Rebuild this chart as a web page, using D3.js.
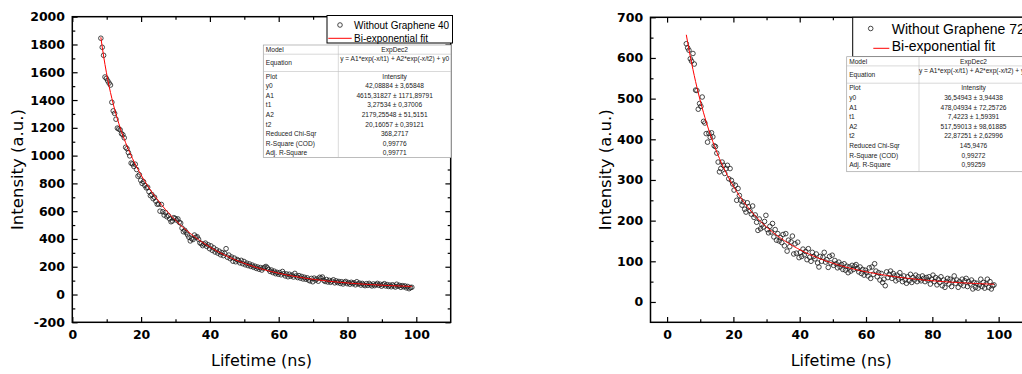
<!DOCTYPE html>
<html>
<head>
<meta charset="utf-8">
<script src="https://cdn.jsdelivr.net/npm/d3@7/dist/d3.min.js"></script>
<style>
  html, body { margin: 0; padding: 0; background: #fff; }
  svg { display: block; }
</style>
</head>
<body>
<svg id="chart" width="1022" height="374"></svg>
<script>
// ---- Decay curves: time channel (ns) and measured intensity ----
const timeA = [
  8.3,8.7,9.1,9.5,9.9,10.3,10.7,11.1,11.5,11.9,
  12.3,12.7,13.1,13.5,13.9,14.3,14.7,15.1,15.5,15.9,
  16.3,16.7,17.1,17.5,17.9,18.3,18.7,19.1,19.5,19.9,
  20.3,20.7,21.1,21.5,21.9,22.3,22.7,23.1,23.5,23.9,
  24.3,24.7,25.1,25.5,25.9,26.3,26.7,27.1,27.5,27.9,
  28.3,28.7,29.1,29.5,29.9,30.3,30.7,31.1,31.5,31.9,
  32.3,32.7,33.1,33.5,33.9,34.3,34.7,35.1,35.5,35.9,
  36.3,36.7,37.1,37.5,37.9,38.3,38.7,39.1,39.5,39.9,
  40.3,40.7,41.1,41.5,41.9,42.3,42.7,43.1,43.5,43.9,
  44.3,44.7,45.1,45.5,45.9,46.3,46.7,47.1,47.5,47.9,
  48.3,48.7,49.1,49.5,49.9,50.3,50.7,51.1,51.5,51.9,
  52.3,52.7,53.1,53.5,53.9,54.3,54.7,55.1,55.5,55.9,
  56.3,56.7,57.1,57.5,57.9,58.3,58.7,59.1,59.5,59.9,
  60.3,60.7,61.1,61.5,61.9,62.3,62.7,63.1,63.5,63.9,
  64.3,64.7,65.1,65.5,65.9,66.3,66.7,67.1,67.5,67.9,
  68.3,68.7,69.1,69.5,69.9,70.3,70.7,71.1,71.5,71.9,
  72.3,72.7,73.1,73.5,73.9,74.3,74.7,75.1,75.5,75.9,
  76.3,76.7,77.1,77.5,77.9,78.3,78.7,79.1,79.5,79.9,
  80.3,80.7,81.1,81.5,81.9,82.3,82.7,83.1,83.5,83.9,
  84.3,84.7,85.1,85.5,85.9,86.3,86.7,87.1,87.5,87.9,
  88.3,88.7,89.1,89.5,89.9,90.3,90.7,91.1,91.5,91.9,
  92.3,92.7,93.1,93.5,93.9,94.3,94.7,95.1,95.5,95.9,
  96.3,96.7,97.1,97.5,97.9,98.3,98.7
];
const intensityA = [
  1845,1780,1722,1566,1556,1538,1522,1508,1384,1322,
  1304,1262,1198,1192,1186,1158,1150,1128,1060,1050,
  1022,998,946,940,922,938,900,852,862,822,
  800,812,785,768,772,740,712,720,690,700,
  672,650,652,600,648,596,572,590,560,568,
  545,524,530,553,548,536,544,520,514,478,
  452,462,446,430,412,386,402,396,428,412,
  416,398,372,366,352,362,370,346,358,330,
  350,318,336,306,322,298,312,286,302,280,
  296,330,268,284,258,270,240,262,236,252,
  244,228,246,222,238,214,226,208,220,202,
  212,196,204,188,198,182,194,176,190,196,
  202,192,180,166,176,158,168,150,160,146,
  158,142,166,150,134,148,128,146,132,140,
  126,152,134,122,136,118,130,112,124,110,
  120,104,98,116,92,118,104,112,96,124,
  118,126,102,94,108,90,102,88,96,106,
  84,98,86,94,80,92,76,88,94,78,
  86,74,88,78,84,70,92,76,82,68,
  80,70,64,78,66,80,70,62,76,64,
  72,80,66,74,60,70,78,62,72,58,
  68,56,70,62,54,74,60,66,52,64,
  56,62,48,58,42,50,52
];

const timeB = [
  5.8,6.2,6.6,7.0,7.4,7.8,8.2,8.6,9.0,9.4,
  9.8,10.2,10.6,11.0,11.4,11.8,12.2,12.6,13.0,13.4,
  13.8,14.2,14.6,15.0,15.4,15.8,16.2,16.6,17.0,17.4,
  17.8,18.2,18.6,19.0,19.4,19.8,20.2,20.6,21.0,21.4,
  21.8,22.2,22.6,23.0,23.4,23.8,24.2,24.6,25.0,25.4,
  25.8,26.2,26.6,27.0,27.4,27.8,28.2,28.6,29.0,29.4,
  29.8,30.2,30.6,31.0,31.4,31.8,32.2,32.6,33.0,33.4,
  33.8,34.2,34.6,35.0,35.4,35.8,36.2,36.6,37.0,37.4,
  37.8,38.2,38.6,39.0,39.4,39.8,40.2,40.6,41.0,41.4,
  41.8,42.2,42.6,43.0,43.4,43.8,44.2,44.6,45.0,45.4,
  45.8,46.2,46.6,47.0,47.4,47.8,48.2,48.6,49.0,49.4,
  49.8,50.2,50.6,51.0,51.4,51.8,52.2,52.6,53.0,53.4,
  53.8,54.2,54.6,55.0,55.4,55.8,56.2,56.6,57.0,57.4,
  57.8,58.2,58.6,59.0,59.4,59.8,60.2,60.6,61.0,61.4,
  61.8,62.2,62.6,63.0,63.4,63.8,64.2,64.6,65.0,65.4,
  65.8,66.2,66.6,67.0,67.4,67.8,68.2,68.6,69.0,69.4,
  69.8,70.2,70.6,71.0,71.4,71.8,72.2,72.6,73.0,73.4,
  73.8,74.2,74.6,75.0,75.4,75.8,76.2,76.6,77.0,77.4,
  77.8,78.2,78.6,79.0,79.4,79.8,80.2,80.6,81.0,81.4,
  81.8,82.2,82.6,83.0,83.4,83.8,84.2,84.6,85.0,85.4,
  85.8,86.2,86.6,87.0,87.4,87.8,88.2,88.6,89.0,89.4,
  89.8,90.2,90.6,91.0,91.4,91.8,92.2,92.6,93.0,93.4,
  93.8,94.2,94.6,95.0,95.4,95.8,96.2,96.6,97.0,97.4,
  97.8,98.2,98.6
];
const intensityB = [
  635,625,619,598,592,611,585,521,520,474,
  488,481,504,444,440,414,393,415,405,416,
  406,384,382,366,344,320,328,344,336,316,
  328,336,303,328,299,290,275,287,250,279,
  262,250,238,246,228,221,244,234,224,216,
  236,208,214,196,176,204,180,190,184,198,
  213,178,170,186,172,193,160,178,152,168,
  150,158,146,166,138,168,125,152,136,148,
  162,118,143,120,147,109,122,112,130,116,
  124,104,131,110,100,122,112,106,118,96,
  86,112,100,110,122,98,104,85,112,96,
  115,90,102,94,84,98,86,92,80,94,
  78,88,72,86,76,90,80,88,92,82,
  74,86,70,80,66,78,72,64,84,58,
  86,68,94,76,62,72,54,70,48,56,
  40,74,60,68,76,58,70,64,52,66,
  56,72,60,50,64,54,46,62,52,68,
  48,60,54,66,50,62,56,52,64,58,
  50,60,54,62,44,56,66,50,60,42,
  56,48,62,40,54,36,50,58,44,56,
  38,52,64,46,54,36,50,44,56,40,
  52,58,38,50,44,54,32,48,36,46,
  34,42,56,38,48,34,44,56,36,50,
  32,40,42
];

// ---- Axis ticks ----
const xMajorTicks = [0, 20, 40, 60, 80, 100];
const xMinorTicks = [10, 30, 50, 70, 90];
const yMajorTicksA = [-200, 0, 200, 400, 600, 800, 1000, 1200, 1400, 1600, 1800, 2000];
const yMinorTicksA = [-100, 100, 300, 500, 700, 900, 1100, 1300, 1500, 1700, 1900];
const yMajorTicksB = [0, 100, 200, 300, 400, 500, 600, 700];
const yMinorTicksB = [50, 150, 250, 350, 450, 550, 650];

// ---- Legend entries ----
const legendA = ["Without Graphene 40", "Bi-exponential fit"];
const legendB = ["Without Graphene 72", "Bi-exponential fit"];

// ---- Fit report tables (ExpDec2) ----
const reportLabels = ["Model", "Equation", "Plot", "y0", "A1", "t1", "A2", "t2",
                      "Reduced Chi-Sqr", "R-Square (COD)", "Adj. R-Square"];
const reportA = ["ExpDec2", "y = A1*exp(-x/t1) + A2*exp(-x/t2) + y0", "Intensity",
  "42,08884 \u00b1 3,65848", "4615,31827 \u00b1 1171,89791", "3,27534 \u00b1 0,37006",
  "2179,25548 \u00b1 51,5151", "20,16057 \u00b1 0,39121", "368,2717", "0,99776", "0,99771"];
const reportB = ["ExpDec2", "y = A1*exp(-x/t1) + A2*exp(-x/t2) + y0", "Intensity",
  "36,54943 \u00b1 3,94438", "478,04934 \u00b1 72,25726", "7,4223 \u00b1 1,59391",
  "517,59013 \u00b1 98,61885", "22,87251 \u00b1 2,62996", "145,9476", "0,99272", "0,99259"];

const svg = d3.select("#chart");
const TICK_FONT = "'DejaVu Sans', Verdana, sans-serif";
const TEXT_FONT = "'Liberation Sans', Arial, sans-serif";

// Read a fitted parameter ("42,08884 ± 3,65848" -> 42.08884)
function param(report, name) {
  const s = report[reportLabels.indexOf(name)];
  return parseFloat(s.split("\u00b1")[0].trim().replace(",", "."));
}

// Integer tick labels with a plain hyphen for negatives
const tickLabel = d => String(d);

function drawPanel(cfg) {
  const x = d3.scaleLinear().domain(cfg.xDomain).range(cfg.xRange);
  const y = d3.scaleLinear().domain(cfg.yDomain).range(cfg.yRange);
  const [left, right] = cfg.xRange;
  const [bottom, top] = cfg.yRange;
  const g = svg.append("g");

  // Scatter of measured intensity
  const pts = cfg.time.map((t, i) => ({ t, v: cfg.intensity[i] }));
  g.append("g").selectAll("circle").data(pts).join("circle")
    .attr("cx", d => x(d.t)).attr("cy", d => y(d.v)).attr("r", 2.3)
    .attr("fill", "none").attr("stroke", "#1a1a1a").attr("stroke-width", 0.8);

  // Bi-exponential fit from the reported parameters
  const y0 = param(cfg.report, "y0"), A1 = param(cfg.report, "A1"), t1 = param(cfg.report, "t1"),
        A2 = param(cfg.report, "A2"), t2 = param(cfg.report, "t2");
  const fit = t => y0 + A1 * Math.exp(-t / t1) + A2 * Math.exp(-t / t2);
  g.append("path").datum(cfg.time)
    .attr("d", d3.line().x(t => x(t)).y(t => y(fit(t))))
    .attr("fill", "none").attr("stroke", "#ff0000").attr("stroke-width", 1);

  // Axes with inward ticks on all four sides
  const styleAxis = sel => {
    sel.select(".domain").remove();
    sel.selectAll(".tick line").attr("stroke", "#000").attr("stroke-width", 1.2);
    sel.selectAll("text").attr("fill", "#000").style("font-family", TICK_FONT)
      .style("font-weight", "bold").style("font-size", "12.5px");
  };
  const noLabel = () => "";
  g.append("g").attr("transform", `translate(0,${bottom})`)
    .call(d3.axisBottom(x).tickValues(xMajorTicks).tickSizeInner(-5.3).tickSizeOuter(0).tickPadding(8).tickFormat(tickLabel))
    .call(styleAxis);
  g.append("g").attr("transform", `translate(0,${bottom})`)
    .call(d3.axisBottom(x).tickValues(xMinorTicks).tickSizeInner(-3).tickSizeOuter(0).tickFormat(noLabel))
    .call(styleAxis);
  g.append("g").attr("transform", `translate(0,${top})`)
    .call(d3.axisTop(x).tickValues(xMajorTicks).tickSizeInner(-5.3).tickSizeOuter(0).tickFormat(noLabel))
    .call(styleAxis);
  g.append("g").attr("transform", `translate(0,${top})`)
    .call(d3.axisTop(x).tickValues(xMinorTicks).tickSizeInner(-3).tickSizeOuter(0).tickFormat(noLabel))
    .call(styleAxis);
  g.append("g").attr("transform", `translate(${left},0)`)
    .call(d3.axisLeft(y).tickValues(cfg.yMajor).tickSizeInner(-5.3).tickSizeOuter(0).tickPadding(7.3).tickFormat(tickLabel))
    .call(styleAxis);
  g.append("g").attr("transform", `translate(${left},0)`)
    .call(d3.axisLeft(y).tickValues(cfg.yMinor).tickSizeInner(-3).tickSizeOuter(0).tickFormat(noLabel))
    .call(styleAxis);
  g.append("g").attr("transform", `translate(${right},0)`)
    .call(d3.axisRight(y).tickValues(cfg.yMajor).tickSizeInner(-5.3).tickSizeOuter(0).tickFormat(noLabel))
    .call(styleAxis);
  g.append("g").attr("transform", `translate(${right},0)`)
    .call(d3.axisRight(y).tickValues(cfg.yMinor).tickSizeInner(-3).tickSizeOuter(0).tickFormat(noLabel))
    .call(styleAxis);

  // Plot frame
  g.append("rect").attr("x", left).attr("y", top)
    .attr("width", right - left).attr("height", bottom - top)
    .attr("fill", "none").attr("stroke", "#000").attr("stroke-width", 1.5);

  // Axis titles
  g.append("text").attr("x", (left + right) / 2).attr("y", 366)
    .attr("text-anchor", "middle").style("font-family", TICK_FONT).style("font-size", "16px")
    .text("Lifetime (ns)");
  g.append("text").attr("transform", `translate(${cfg.yTitleX},${(top + bottom) / 2}) rotate(-90)`)
    .attr("text-anchor", "middle").attr("dy", "0.35em")
    .style("font-family", TICK_FONT).style("font-size", "16.5px")
    .text("Intensity (a.u.)");

  // Legend
  const L = cfg.legend;
  const lg = g.append("g");
  lg.append("rect").attr("x", L.box[0]).attr("y", L.box[1]).attr("width", L.box[2]).attr("height", L.box[3])
    .attr("fill", "#fff").attr("stroke", "#000").attr("stroke-width", 1);
  lg.append("circle").attr("cx", L.symbol[0]).attr("cy", L.symbol[1]).attr("r", 2.3)
    .attr("fill", "none").attr("stroke", "#1a1a1a").attr("stroke-width", 0.8);
  lg.append("line").attr("x1", L.line[0]).attr("x2", L.line[1]).attr("y1", L.line[2]).attr("y2", L.line[2])
    .attr("stroke", "#ff0000").attr("stroke-width", 1);
  cfg.legendText.forEach((s, i) => {
    lg.append("text").attr("x", L.textX).attr("y", L.baselines[i])
      .style("font-family", TEXT_FONT).style("font-size", L.fontSize + "px").attr("fill", "#000")
      .text(s);
  });

  // Fit report table
  const T = cfg.table;
  const tg = g.append("g");
  const rowTop = 26.5, rowH = 9.6;
  tg.append("rect").attr("x", T.x).attr("y", T.y).attr("width", T.w).attr("height", T.h)
    .attr("fill", "#fff").attr("stroke", "#a0a0a0").attr("stroke-width", 0.7);
  tg.append("line").attr("x1", T.x + T.c1).attr("x2", T.x + T.c1).attr("y1", T.y).attr("y2", T.y + T.h)
    .attr("stroke", "#c0c0c0").attr("stroke-width", 0.6);
  [9.2, rowTop].forEach(off => {
    tg.append("line").attr("x1", T.x).attr("x2", T.x + T.w).attr("y1", T.y + off).attr("y2", T.y + off)
      .attr("stroke", "#c0c0c0").attr("stroke-width", 0.6);
  });
  const labelY = i => i === 0 ? 4.5 : i === 1 ? 18.0 : rowTop + rowH * (i - 2) + 4.8;
  const valueY = i => i === 1 ? 13.6 : labelY(i);
  reportLabels.forEach((lab, i) => {
    tg.append("text").attr("x", T.x + 2.5).attr("y", T.y + labelY(i) + 2.3)
      .style("font-family", TEXT_FONT).style("font-size", "6.6px").attr("fill", "#222").text(lab);
    tg.append("text").attr("x", T.x + T.c1 + (T.w - T.c1) / 2).attr("y", T.y + valueY(i) + 2.3)
      .attr("text-anchor", "middle")
      .style("font-family", TEXT_FONT).style("font-size", "6.6px").attr("fill", "#222").text(cfg.report[i]);
  });
}

drawPanel({
  time: timeA, intensity: intensityA, report: reportA, legendText: legendA,
  xDomain: [0, 110], xRange: [72.3, 450.7],
  yDomain: [-200, 2000], yRange: [322.3, 16.7],
  yMajor: yMajorTicksA, yMinor: yMinorTicksA, yTitleX: 17.5,
  legend: { box: [327, 15.5, 125.5, 27.5], symbol: [340, 25], line: [328.3, 351.7, 38.3],
            textX: 354, baselines: [28.6, 41.9], fontSize: 10 },
  table: { x: 263.3, y: 45, w: 187.7, h: 112.5, c1: 75 }
});

drawPanel({
  time: timeB, intensity: intensityB, report: reportB, legendText: legendB,
  xDomain: [-5, 110], xRange: [650.5, 1031.8],
  yDomain: [-50, 700], yRange: [322.3, 17.3],
  yMajor: yMajorTicksB, yMinor: yMinorTicksB, yTitleX: 605,
  legend: { box: [852.7, 17.3, 200, 39.4], symbol: [870.7, 28.5], line: [873.3, 889.3, 48.3],
            textX: 891.7, baselines: [34, 51], fontSize: 14 },
  table: { x: 846.7, y: 56.7, w: 181.3, h: 115, c1: 72.3 }
});
</script>
</body>
</html>
